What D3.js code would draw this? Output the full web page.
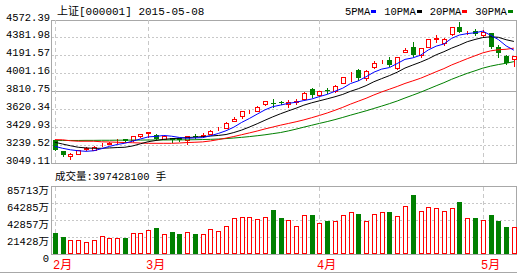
<!DOCTYPE html>
<html>
<head>
<meta charset="utf-8">
<script src="https://cdn.jsdelivr.net/npm/d3@7"></script>
<style>
  body { margin: 0; background: #fff; }
  svg text { font-family: "Liberation Mono", "DejaVu Sans Mono", "Noto Sans CJK SC", monospace; font-size: 10.5px; fill: #000; }
</style>
</head>
<body>
<div id="chart"></div>
<script>
/**
 * 上证指数 daily K line, 2015-02-05 .. 2015-05-08
 */
var days = ["02-05","02-06","02-09","02-10","02-11","02-12","02-13","02-16","02-17","02-25","02-26","02-27",
    "03-02","03-03","03-04","03-05","03-06","03-09","03-10","03-11","03-12","03-13","03-16","03-17","03-18","03-19","03-20","03-23","03-24","03-25","03-26","03-27","03-30","03-31",
    "04-01","04-02","04-03","04-07","04-08","04-09","04-10","04-13","04-14","04-15","04-16","04-17","04-20","04-21","04-22","04-23","04-24","04-27","04-28","04-29","04-30",
    "05-04","05-05","05-06","05-07","05-08"];

var opens = [3293,3176,3123,3148,3198,3190,3240,3254,3283,3304,3293,3336,3368,3354,3307,3318,3314,3293,3336,3343,
    3360,3413,3428,3498,3545,3601,3604,3672,3689,3700,3675,3702,3732,3838,3768,3822,3814,3902,4003,4036,
    3948,4071,4121,4142,4054,4231,4284,4196,4284,4369,4320,4415,4496,4438,4454,4407,4425,4284,4185,4150];
var highs = [3296,3182,3155,3192,3226,3230,3261,3272,3304,3307,3341,3362,3383,3360,3341,3322,3320,3341,3357,3371,
    3399,3431,3484,3537,3604,3619,3651,3710,3725,3707,3718,3725,3800,3851,3819,3848,3874,3965,4016,4052,
    4036,4132,4142,4171,4174,4267,4330,4270,4369,4408,4380,4498,4545,4454,4468,4460,4433,4302,4196,4190];
var lows = [3190,3129,3099,3145,3190,3187,3230,3251,3265,3277,3288,3330,3328,3304,3304,3272,3288,3258,3318,3325,
    3357,3399,3424,3495,3534,3587,3601,3668,3649,3675,3647,3681,3725,3755,3764,3789,3806,3895,3918,3930,
    3930,4054,4107,4084,4052,4228,4190,4178,4280,4337,4302,4411,4440,4415,4412,4397,4267,4178,4100,4078];
var closes = [3195,3134,3152,3187,3212,3226,3245,3269,3288,3283,3336,3357,3381,3311,3336,3293,3296,3336,3328,3350,
    3396,3417,3481,3516,3601,3606,3647,3707,3686,3683,3697,3707,3795,3768,3814,3812,3870,3962,4010,3957,
    4029,4114,4126,4089,4171,4249,4196,4267,4365,4373,4362,4496,4443,4443,4418,4443,4284,4214,4108,4185];

// volume in 万
var volumes = [26850,21800,17650,17650,15100,17650,22700,20600,20600,20600,26850,26850,30250,33200,25200,28100,25200,27730,25200,25200,
    31100,29000,35300,45000,46260,46260,43700,46260,55460,45380,42860,35300,49160,49160,39080,41600,41600,49160,52560,50420,
    41600,50420,52560,52560,47900,60500,74370,53800,58860,57600,53800,57600,65550,45000,45000,42860,49160,41600,34030,34030];

var ma5 = [3229,3208,3192,3182,3176,3182,3204,3228,3248,3262,3284,3307,3329,3334,3344,3336,3323,3314,3318,3321,
    3341,3365,3394,3432,3482,3524,3570,3615,3649,3666,3684,3696,3714,3730,3756,3779,3812,3845,3894,3922,
    3966,4014,4047,4063,4106,4150,4166,4194,4250,4290,4313,4373,4408,4423,4432,4449,4406,4360,4293,4247];
var ma10 = [3272,3253,3235,3219,3212,3208,3208,3212,3216,3219,3233,3256,3278,3291,3303,3310,3315,3322,3326,3332,
    3338,3344,3354,3375,3401,3433,3468,3505,3541,3574,3604,3633,3665,3690,3711,3732,3754,3779,3812,3839,
    3872,3913,3946,3978,4014,4058,4090,4121,4156,4198,4231,4269,4301,4337,4361,4381,4389,4384,4358,4340];
var ma20 = [3300,3298,3288,3283,3283,3283,3277,3275,3272,3269,3267,3264,3261,3261,3261,3261,3264,3269,3272,3276,
    3286,3300,3316,3333,3352,3371,3391,3413,3433,3453,3471,3489,3509,3532,3556,3582,3611,3642,3676,3707,
    3738,3773,3805,3834,3863,3895,3922,3950,3984,4019,4052,4091,4124,4157,4188,4219,4240,4252,4257,4269];
var ma30 = [3290,3290,3291,3291,3292,3292,3293,3293,3294,3294,3295,3295,3296,3296,3296,3297,3297,3298,3299,3301,
    3303,3306,3311,3317,3324,3332,3341,3351,3363,3375,3392,3411,3432,3452,3472,3491,3512,3535,3559,3582,
    3605,3630,3655,3681,3709,3741,3771,3802,3836,3870,3903,3939,3971,4002,4029,4057,4078,4095,4109,4126];

var priceTicks = [4572.39, 4381.98, 4191.57, 4001.16, 3810.75, 3620.34, 3429.93, 3239.52, 3049.11];
var volumeTicks = [85713, 64285, 42857, 21428, 0];
var maNames = ["5PMA", "10PMA", "20PMA", "30PMA"];
var title = "上证[000001] 2015-05-08";
var volumeTitle = "成交量:397428100 手";

const RED = "#ff0000", GREEN = "#008000", GRID = "#c8c8c8", FRAME = "#a8a8a8";
var maColors = ["#0000ff", "#000000", RED, GREEN];

var svg = d3.select("#chart")
    .append("svg")
    .attr("width", 527)
    .attr("height", 274);

var x = d3.scaleBand()
    .domain(d3.range(days.length))
    .range([51, 517.8]);
const cx = (i) => Math.round(x(i) + x.bandwidth() / 2);

var y = d3.scaleLinear()
    .domain([d3.min(priceTicks), d3.max(priceTicks)])
    .range([163.3, 19.5]);

var yv = d3.scaleLinear()
    .domain([0, d3.max(volumeTicks)])
    .range([254, 186]);

// month starts
var monthStarts = days.map((d, i) => i).filter(i => i === 0 || days[i].slice(0, 2) !== days[i - 1].slice(0, 2));

const hline = (yy, x0, x1, color, dash) => {
    svg.append("line")
        .attr("x1", x0).attr("x2", x1)
        .attr("y1", Math.round(yy) + 0.5).attr("y2", Math.round(yy) + 0.5)
        .attr("stroke", color)
        .attr("stroke-dasharray", dash || null)
        .attr("shape-rendering", "crispEdges");
};
const vline = (xx, y0, y1, color, dash) => {
    svg.append("line")
        .attr("x1", xx + 0.5).attr("x2", xx + 0.5)
        .attr("y1", y0).attr("y2", y1)
        .attr("stroke", color)
        .attr("stroke-dasharray", dash || null)
        .attr("shape-rendering", "crispEdges");
};

/**
 * grid + frames
 */
priceTicks.forEach((t, k) => {
    var solid = (k === 0 || k === 4 || k === priceTicks.length - 1);
    hline(y(t), 52, 517, solid ? FRAME : GRID, solid ? null : "2,2");
    svg.append("text")
        .attr("x", 50)
        .attr("y", Math.round(y(t)) + 0.5)
        .style("text-anchor", "end")
        .text(t.toFixed(2));
});
volumeTicks.forEach((t, k) => {
    var solid = (k === 0 || k === volumeTicks.length - 1);
    hline(yv(t), 52, 517, solid ? FRAME : GRID, solid ? null : "2,2");
    svg.append("text")
        .attr("x", 49)
        .attr("y", Math.round(yv(t)) + 8)
        .style("text-anchor", "end")
        .text(t === 0 ? "0" : t + "万");
});
vline(51, 19.5, 163.8, FRAME);
vline(516, 19.5, 163.8, FRAME);
vline(51, 186, 254.5, FRAME);
vline(516, 186, 254.5, FRAME);
hline(272, 0, 517, FRAME);

monthStarts.forEach(i => {
    vline(cx(i), 20, 163, GRID, "4,3");
    vline(cx(i), 187, 254, GRID, "4,3");
    svg.append("text")
        .attr("x", cx(i) - 2)
        .attr("y", 269)
        .style("font-size", "12px")
        .style("fill", RED)
        .text(+days[i].slice(0, 2) + "月");
});

/**
 * candles
 */
var candles = svg.append("g").attr("shape-rendering", "crispEdges");
days.forEach((d, i) => {
    var up = closes[i] >= opens[i];
    var col = up ? RED : GREEN;
    var c = cx(i);
    candles.append("line")
        .attr("x1", c + 0.5).attr("x2", c + 0.5)
        .attr("y1", Math.round(y(highs[i]))).attr("y2", Math.round(y(lows[i])) + 1)
        .attr("stroke", col);
    var top = Math.round(y(Math.max(opens[i], closes[i])));
    var bot = Math.round(y(Math.min(opens[i], closes[i])));
    if (up) {
        candles.append("rect")
            .attr("x", c - 1.5).attr("y", top + 0.5)
            .attr("width", 4).attr("height", Math.max(0, bot - top))
            .attr("fill", "#fff").attr("stroke", col);
    } else {
        candles.append("rect")
            .attr("x", c - 2).attr("y", top)
            .attr("width", 5).attr("height", Math.max(1, bot - top))
            .attr("fill", col);
    }

    // volume bar
    var vt = Math.round(yv(volumes[i]));
    if (up) {
        candles.append("rect")
            .attr("x", c - 1.5).attr("y", vt + 0.5)
            .attr("width", 4).attr("height", 253 - vt)
            .attr("fill", "#fff").attr("stroke", col);
    } else {
        candles.append("rect")
            .attr("x", c - 2).attr("y", vt)
            .attr("width", 5).attr("height", 254 - vt)
            .attr("fill", col);
    }
});

/**
 * moving averages
 */
var line = d3.line()
    .x((d, i) => x(i) + x.bandwidth() / 2)
    .y(d => y(d));
[ma30, ma20, ma10, ma5].forEach((s, k) => {
    svg.append("path")
        .datum(s)
        .attr("fill", "none")
        .attr("stroke", maColors[3 - k])
        .attr("stroke-width", 1)
        .attr("d", line);
});

/**
 * titles and legend
 */
svg.append("text")
    .attr("x", 57)
    .attr("y", 15)
    .style("font-size", "11px")
    .text(title);
svg.append("text")
    .attr("x", 55)
    .attr("y", 180)
    .text(volumeTitle);

var lx = 345;
maNames.forEach((n, k) => {
    var t = svg.append("text")
        .attr("x", lx)
        .attr("y", 15)
        .text(n);
    var w = t.node().getComputedTextLength();
    svg.append("rect")
        .attr("x", Math.round(lx + w + 1)).attr("y", 10)
        .attr("width", 5).attr("height", 3)
        .attr("fill", maColors[k]);
    lx = lx + w + 1 + 5 + 8;
});
</script>
</body>
</html>
